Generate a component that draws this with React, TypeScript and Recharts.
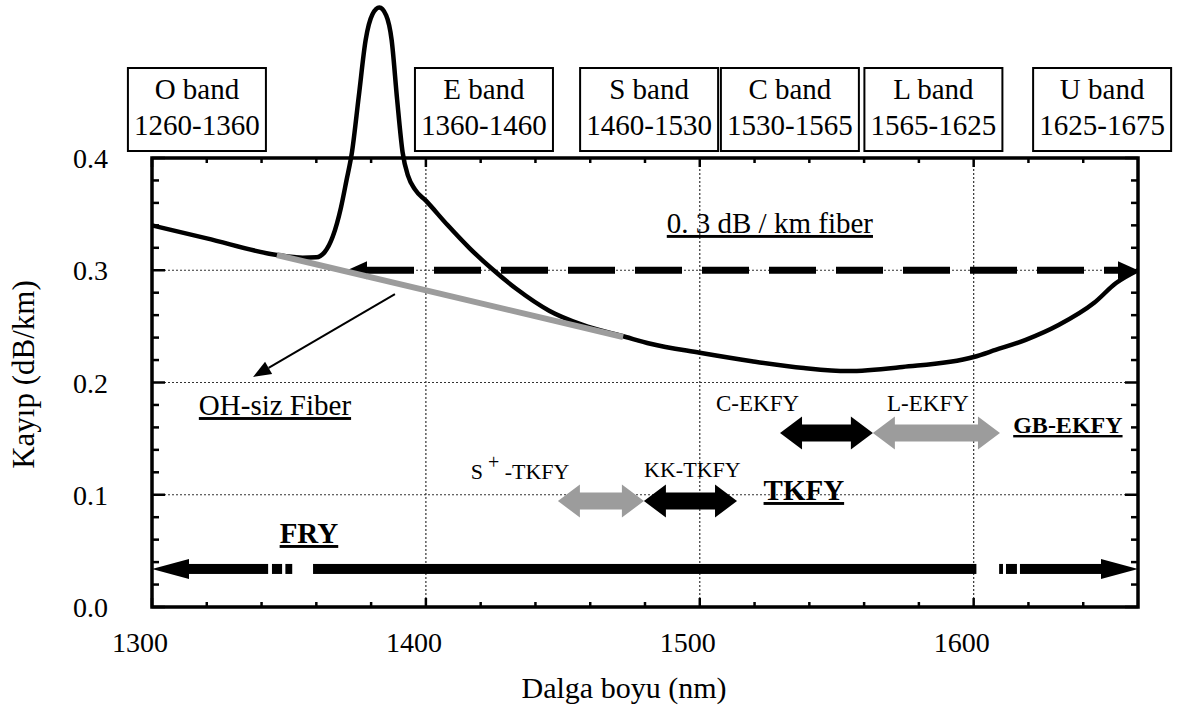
import React from "react";
import { LineChart, Line, XAxis, YAxis, ReferenceLine, ReferenceArea, ReferenceDot } from "recharts";

const SERIF = "'Liberation Serif', 'Times New Roman', serif";

// fibre attenuation curve, with the water (OH) peak near 1383 nm
const wavelength = [
  1300, 1320, 1345.6, 1355, 1360, 1363, 1366, 1369, 1371, 1373, 1375.5, 1378, 1380.5, 1383,
  1385.5, 1387.5, 1389.5, 1391.5, 1393.5, 1396, 1400, 1408, 1416, 1424, 1433, 1445, 1457,
  1473, 1482, 1500, 1519, 1538, 1554, 1574, 1600, 1608, 1619, 1631, 1644, 1652, 1660,
];
const loss = [
  0.34, 0.3284, 0.3136, 0.3112, 0.3115, 0.316, 0.33, 0.356, 0.38, 0.405, 0.455, 0.505, 0.528, 0.534,
  0.527, 0.505, 0.452, 0.405, 0.384, 0.372, 0.362, 0.34, 0.3195, 0.3015, 0.2835, 0.264, 0.2515,
  0.2405, 0.2345, 0.2265, 0.219, 0.2129, 0.2102, 0.2138, 0.2227, 0.229, 0.238, 0.2512, 0.271, 0.2886, 0.3,
];

// OH-free fibre (straight segment)
const ohFreeWavelength = [1345.6, 1472];
const ohFreeLoss = [0.3136, 0.2405];

// band boxes along the top
const bandNames = ["O band", "E band", "S band", "C band", "L band", "U band"];
const bandRanges = ["1260-1360", "1360-1460", "1460-1530", "1530-1565", "1565-1625", "1625-1675"];
const bandLabelAt = [1316.4, 1421.2, 1481.5, 1532.9, 1585.3, 1646.9];
const bandLabelLevel = 0.4432;

// amplifier spans (double arrows)
const ampStart = [1529.3, 1563.2, 1448.2, 1479.6];
const ampEnd = [1563.2, 1609.6, 1479.6, 1513.6];
const ampLevel = [0.155, 0.155, 0.0944, 0.0944];
const ampFill = ["#000", "#9c9c9c", "#9c9c9c", "#000"];

// FRY span, drawn with breaks
const fryStart = [1300, 1343.8, 1348.7, 1358.8, 1609.3, 1611.8, 1616.9];
const fryEnd = [1342.4, 1347.5, 1351.2, 1601, 1610.7, 1615.8, 1660];
const fryLevel = 0.0339;

// 0.3 dB/km reference
const refStart = 1371.2;
const refEnd = 1660;
const refLevel = 0.3;

const xTicks = [
  1300, 1320, 1340, 1360, 1380, 1400, 1420, 1440, 1460, 1480, 1500, 1520, 1540, 1560, 1580,
  1600, 1620, 1640,
];
const yTicks = [
  0, 0.02, 0.04, 0.06, 0.08, 0.1, 0.12, 0.14, 0.16, 0.18, 0.2, 0.22, 0.24, 0.26, 0.28, 0.3,
  0.32, 0.34, 0.36, 0.38, 0.4,
];
const gridX = [1400, 1500, 1600];
const gridY = [0.1, 0.2, 0.3];

const curve = wavelength.map((w, i) => ({ w, loss: loss[i] }));
const ohFree = ohFreeWavelength.map((w, i) => ({ w, loss: ohFreeLoss[i] }));

const isMajorX = (v: number) => v % 100 === 0;
const isMajorY = (v: number) => Math.round(v * 100) % 10 === 0;

function BottomTick({ x, y, payload }: any) {
  const major = isMajorX(payload.value);
  return (
    <g>
      <line x1={x} y1={y} x2={x} y2={y - (major ? 9 : 5)} stroke="#000" strokeWidth={2.5} />
      {major && (
        <text x={x - 12} y={y + 45} textAnchor="middle" fontSize={28} fontFamily={SERIF} fill="#000">
          {payload.value}
        </text>
      )}
    </g>
  );
}

function TopTick({ x, y, payload }: any) {
  const major = isMajorX(payload.value);
  return <line x1={x} y1={y} x2={x} y2={y + (major ? 9 : 5)} stroke="#000" strokeWidth={2.5} />;
}

function LeftTick({ x, y, payload }: any) {
  const major = isMajorY(payload.value);
  return (
    <g>
      <line x1={x} y1={y} x2={x + (major ? 13 : 7)} y2={y} stroke="#000" strokeWidth={2.5} />
      {major && (
        <text x={x - 44} y={y + 10} textAnchor="end" fontSize={28} fontFamily={SERIF} fill="#000">
          {payload.value.toFixed(1)}
        </text>
      )}
    </g>
  );
}

function RightTick({ x, y, payload }: any) {
  const major = isMajorY(payload.value);
  return <line x1={x} y1={y} x2={x - (major ? 13 : 7)} y2={y} stroke="#000" strokeWidth={2.5} />;
}

function BandBox({ cx, cy, name, range }: any) {
  return (
    <g>
      <rect x={cx - 69} y={cy - 41.5} width={138} height={83} fill="#fff" stroke="#000" strokeWidth={2} />
      <text x={cx} y={cy - 10.5} textAnchor="middle" fontSize={29} fontFamily={SERIF} fill="#000">
        {name}
      </text>
      <text x={cx} y={cy + 25.5} textAnchor="middle" fontSize={29} fontFamily={SERIF} fill="#000">
        {range}
      </text>
    </g>
  );
}

function DoubleArrow({ x1, y1, x2, fill }: any) {
  const h = 8.5;
  const H = 16.5;
  const L = 22;
  const pts = [
    [x1, y1], [x1 + L, y1 - H], [x1 + L, y1 - h], [x2 - L, y1 - h], [x2 - L, y1 - H], [x2, y1],
    [x2 - L, y1 + H], [x2 - L, y1 + h], [x1 + L, y1 + h], [x1 + L, y1 + H],
  ];
  return <polygon points={pts.map((p) => p.join(",")).join(" ")} fill={fill} />;
}

function DashedArrow({ x1, y1, x2 }: any) {
  const L = 20;
  const H = 9;
  return (
    <g>
      <line x1={x1 + L} y1={y1} x2={x2 - L} y2={y1} stroke="#000" strokeWidth={7} strokeDasharray="47 20" />
      <polygon points={`${x1},${y1} ${x1 + L},${y1 - H} ${x1 + L},${y1 + H}`} fill="#000" />
      <polygon points={`${x2},${y1} ${x2 - L},${y1 - H} ${x2 - L},${y1 + H}`} fill="#000" />
    </g>
  );
}

function FryPiece({ x1, y1, x2, headLeft, headRight }: any) {
  const h = 5;
  const H = 10;
  const L = 37;
  const a = headLeft ? x1 + L : x1;
  const b = headRight ? x2 - L : x2;
  return (
    <g>
      <rect x={a} y={y1 - h} width={Math.max(b - a, 0)} height={h * 2} fill="#000" />
      {headLeft && <polygon points={`${x1},${y1} ${a},${y1 - H} ${a},${y1 + H}`} fill="#000" />}
      {headRight && <polygon points={`${x2},${y1} ${b},${y1 - H} ${b},${y1 + H}`} fill="#000" />}
    </g>
  );
}

function Pointer({ x1, y1, x2, y2 }: any) {
  const dx = x2 - x1;
  const dy = y2 - y1;
  const len = Math.hypot(dx, dy);
  const ux = dx / len;
  const uy = dy / len;
  const L = 18;
  const W = 7;
  const bx = x2 - ux * L;
  const by = y2 - uy * L;
  return (
    <g>
      <line x1={x1} y1={y1} x2={bx} y2={by} stroke="#000" strokeWidth={2} />
      <polygon
        points={`${x2},${y2} ${bx - uy * W},${by + ux * W} ${bx + uy * W},${by - ux * W}`}
        fill="#000"
      />
    </g>
  );
}

const note =
  (text: React.ReactNode, size: number, bold = false, underline = false) =>
  (p: any) => (
    <text
      x={p.cx}
      y={p.cy}
      textAnchor="middle"
      fontSize={size}
      fontFamily={SERIF}
      fontWeight={bold ? "bold" : "normal"}
      fill="#000"
      style={underline ? { textDecoration: "underline" } : undefined}
    >
      {text}
    </text>
  );

export default function App() {
  return (
    <div
      style={{
        position: "absolute",
        left: 0,
        top: 0,
        width: 1179,
        height: 709,
        background: "#fff",
        fontFamily: SERIF,
      }}
    >
      <style>{`.recharts-line, .recharts-line * { clip-path: none !important; }`}</style>
      {/* each axis takes 1px, so the plot frame lands at 152..1138 x 158..607 */}
      <LineChart width={1179} height={709} margin={{ top: 157, right: 40, bottom: 101, left: 151 }}>
        <XAxis
          dataKey="w"
          type="number"
          domain={[1300, 1660]}
          ticks={xTicks}
          interval={0}
          allowDataOverflow
          height={1}
          tickSize={0}
          tickMargin={0}
          axisLine={false}
          tickLine={false}
          tick={<BottomTick />}
          label={{
            content: (p: any) => (
              <text
                x={p.viewBox.x + p.viewBox.width / 2 - 21}
                y={p.viewBox.y + 91}
                textAnchor="middle"
                fontSize={30}
                fontFamily={SERIF}
                fill="#000"
              >
                Dalga boyu (nm)
              </text>
            ),
          }}
        />
        <XAxis
          xAxisId="top"
          orientation="top"
          dataKey="w"
          type="number"
          domain={[1300, 1660]}
          ticks={xTicks}
          interval={0}
          allowDataOverflow
          height={1}
          tickSize={0}
          tickMargin={0}
          axisLine={false}
          tickLine={false}
          tick={<TopTick />}
        />
        <YAxis
          type="number"
          domain={[0, 0.4]}
          ticks={yTicks}
          interval={0}
          allowDataOverflow
          width={1}
          tickSize={0}
          tickMargin={0}
          axisLine={false}
          tickLine={false}
          tick={<LeftTick />}
          label={{
            content: (p: any) => {
              const cy = p.viewBox.y + p.viewBox.height / 2 - 8;
              return (
                <text
                  x={23}
                  y={cy}
                  transform={`rotate(-90 23 ${cy})`}
                  textAnchor="middle"
                  dominantBaseline="central"
                  fontSize={31}
                  fontFamily={SERIF}
                  fill="#000"
                >
                  Kayıp (dB/km)
                </text>
              );
            },
          }}
        />
        <YAxis
          yAxisId="right"
          orientation="right"
          type="number"
          domain={[0, 0.4]}
          ticks={yTicks}
          interval={0}
          allowDataOverflow
          width={1}
          tickSize={0}
          tickMargin={0}
          axisLine={false}
          tickLine={false}
          tick={<RightTick />}
        />

        {gridX.map((v) => (
          <ReferenceLine key={`gx${v}`} x={v} stroke="#333" strokeWidth={1.2} strokeDasharray="2 2" />
        ))}
        {gridY.map((v) => (
          <ReferenceLine key={`gy${v}`} y={v} stroke="#333" strokeWidth={1.2} strokeDasharray="2 2" />
        ))}

        <ReferenceArea
          x1={1300}
          x2={1660}
          y1={0}
          y2={0.4}
          fill="none"
          fillOpacity={0}
          stroke="#000"
          strokeWidth={3.5}
          ifOverflow="visible"
        />

        <ReferenceLine
          segment={[
            { x: refStart, y: refLevel },
            { x: refEnd, y: refLevel },
          ]}
          shape={(p: any) => <DashedArrow {...p} />}
        />

        <Line
          data={curve}
          dataKey="loss"
          type="monotone"
          stroke="#000"
          strokeWidth={4.5}
          dot={false}
          isAnimationActive={false}
        />
        <Line
          data={ohFree}
          dataKey="loss"
          type="linear"
          stroke="#9c9c9c"
          strokeWidth={6}
          dot={false}
          isAnimationActive={false}
        />

        <ReferenceLine
          segment={[
            { x: 1388.7, y: 0.2788 },
            { x: 1336.9, y: 0.2049 },
          ]}
          shape={(p: any) => <Pointer {...p} />}
        />

        {ampStart.map((s, i) => (
          <ReferenceLine
            key={`amp${i}`}
            segment={[
              { x: s, y: ampLevel[i] },
              { x: ampEnd[i], y: ampLevel[i] },
            ]}
            shape={(p: any) => <DoubleArrow {...p} fill={ampFill[i]} />}
          />
        ))}

        {fryStart.map((s, i) => (
          <ReferenceLine
            key={`fry${i}`}
            segment={[
              { x: s, y: fryLevel },
              { x: fryEnd[i], y: fryLevel },
            ]}
            shape={(p: any) => (
              <FryPiece {...p} headLeft={i === 0} headRight={i === fryStart.length - 1} />
            )}
          />
        ))}

        {bandNames.map((n, i) => (
          <ReferenceDot
            key={n}
            x={bandLabelAt[i]}
            y={bandLabelLevel}
            ifOverflow="visible"
            shape={(p: any) => <BandBox {...p} name={n} range={bandRanges[i]} />}
          />
        ))}

        <ReferenceDot x={1525.6} y={0.3332} ifOverflow="visible" shape={note("0. 3 dB / km fiber", 29, false, true)} />
        <ReferenceDot x={1344.9} y={0.171} ifOverflow="visible" shape={note("OH-siz Fiber", 29, false, true)} />
        <ReferenceDot x={1521.1} y={0.1742} ifOverflow="visible" shape={note("C-EKFY", 23)} />
        <ReferenceDot x={1583.3} y={0.1742} ifOverflow="visible" shape={note("L-EKFY", 23)} />
        <ReferenceDot x={1634.4} y={0.155} ifOverflow="visible" shape={note("GB-EKFY", 24, true, true)} />
        <ReferenceDot x={1497.3} y={0.1158} ifOverflow="visible" shape={note("KK-TKFY", 22)} />
        <ReferenceDot
          x={1434.4}
          y={0.114}
          ifOverflow="visible"
          shape={note(
            <>
              S
              <tspan dy={-10} fontSize={20}>
                {" +"}
              </tspan>
              <tspan dy={10}>{" -TKFY"}</tspan>
            </>,
            22
          )}
        />
        <ReferenceDot x={1538} y={0.0953} ifOverflow="visible" shape={note("TKFY", 29, true, true)} />
        <ReferenceDot x={1357.3} y={0.057} ifOverflow="visible" shape={note("FRY", 29, true, true)} />
      </LineChart>
    </div>
  );
}
